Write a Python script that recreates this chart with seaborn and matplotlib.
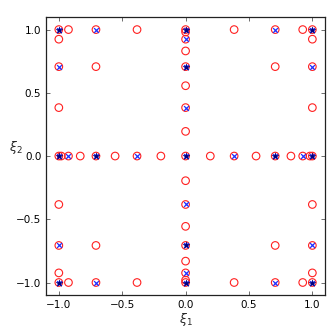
import numpy as np
import pandas as pd
import matplotlib
matplotlib.use("Agg")
import matplotlib.pyplot as plt
import seaborn as sns

# sparse grid points, row by row (y value -> x values)
# finest grid (red circles)
red_x = [-1, -0.981, -0.924, -0.831, -0.707, -0.556, -0.383, -0.195, 0,
         0.195, 0.383, 0.556, 0.707, 0.831, 0.924, 0.981, 1,          # y = 0
         -1, -0.924, -0.707, -0.383, 0, 0.383, 0.707, 0.924, 1,         # y = 1
         -1, -0.924, -0.707, -0.383, 0, 0.383, 0.707, 0.924, 1,         # y = -1
         -1, -0.707, 0, 0.707, 1,                                       # y = 0.707
         -1, -0.707, 0, 0.707, 1,                                       # y = -0.707
         -1, 0, 1, -1, 0, 1,                                            # y = +-0.924
         -1, 0, 1, -1, 0, 1,                                            # y = +-0.383
         0, 0, 0, 0, 0, 0, 0, 0]                                        # x = 0 column extras
red_y = [0] * 17 + [1] * 9 + [-1] * 9 + [0.707] * 5 + [-0.707] * 5 \
    + [0.924] * 3 + [-0.924] * 3 + [0.383] * 3 + [-0.383] * 3 \
    + [0.981, -0.981, 0.831, -0.831, 0.556, -0.556, 0.195, -0.195]

# middle grid (blue crosses)
blue_x = [-1, -0.924, -0.707, -0.383, 0, 0.383, 0.707, 0.924, 1,   # y = 0
          -1, -0.707, 0, 0.707, 1,                                 # y = 1
          -1, -0.707, 0, 0.707, 1,                                 # y = -1
          -1, 0, 1, -1, 0, 1,                                      # y = +-0.707
          0, 0, 0, 0]                                              # y = +-0.924, +-0.383
blue_y = [0] * 9 + [1] * 5 + [-1] * 5 + [0.707] * 3 + [-0.707] * 3 \
    + [0.924, -0.924, 0.383, -0.383]

# coarse grid (dark stars)
dark_x = [-1, -0.707, 0, 0.707, 1,   # y = 0
          -1, 0, 1, -1, 0, 1,        # y = +-1
          0, 0]                      # y = +-0.707
dark_y = [0] * 5 + [1] * 3 + [-1] * 3 + [0.707, -0.707]

sns.set_style("ticks")
plt.rcParams["font.family"] = ["DejaVu Sans"]
plt.rcParams["mathtext.fontset"] = "dejavusans"

fig = plt.figure(figsize=(3.32, 3.32), dpi=100)
ax = fig.add_axes([0.139, 0.111, 0.84, 0.838])

red = pd.DataFrame({"x": red_x, "y": red_y})
blue = pd.DataFrame({"x": blue_x, "y": blue_y})
dark = pd.DataFrame({"x": dark_x, "y": dark_y})

sns.scatterplot(data=red, x="x", y="y", ax=ax, marker="o", s=30,
                facecolor="none", edgecolor="#ff2020", linewidth=0.8)
sns.scatterplot(data=blue, x="x", y="y", ax=ax, marker="x", s=12,
                color="#2030ff", linewidth=0.9)
sns.scatterplot(data=dark, x="x", y="y", ax=ax, marker="*", s=26,
                color="navy", linewidth=0.3, edgecolor="darkblue")

ax.set_xlim(-1.1, 1.1)
ax.set_ylim(-1.1, 1.1)
ax.set_xticks([-1.0, -0.5, 0.0, 0.5, 1.0])
ax.set_yticks([-1.0, -0.5, 0.0, 0.5, 1.0])
ax.set_xticklabels(["\u22121.0", "\u22120.5", "0.0", "0.5", "1.0"])
ax.set_yticklabels(["\u22121.0", "\u22120.5", "0.0", "0.5", "1.0"])
ax.tick_params(direction="in", top=True, right=True, length=3, width=0.6,
               labelsize=7.5, colors="#555555", labelcolor="black")
for sp in ax.spines.values():
    sp.set_linewidth(0.9)
    sp.set_color("#222222")

ax.set_xlabel(r"$\xi_1$", fontsize=9, labelpad=1)
ax.set_ylabel(r"$\xi_2$", fontsize=9, labelpad=6, rotation=0)
ax.yaxis.set_label_coords(-0.11, 0.5)

fig.savefig("out.png", dpi=100)
